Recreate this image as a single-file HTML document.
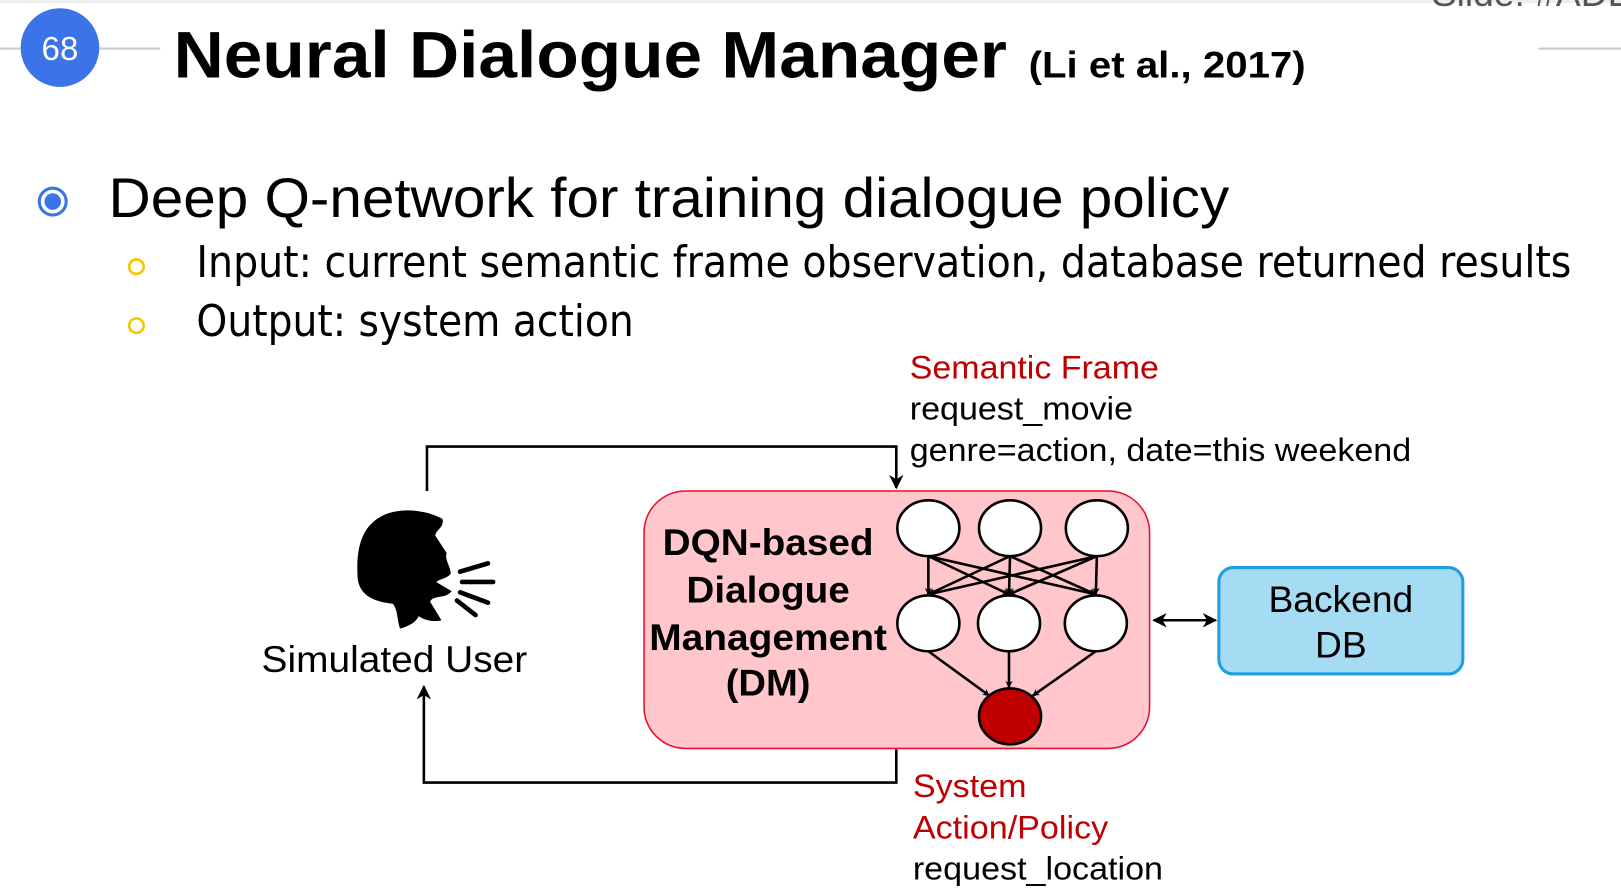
<!DOCTYPE html>
<html><head><meta charset="utf-8"><style>html,body{margin:0;padding:0;background:#fff;overflow:hidden}svg{display:block}</style></head>
<body>
<svg width="1621" height="889" viewBox="0 0 1568 860" preserveAspectRatio="none" xmlns="http://www.w3.org/2000/svg" font-family="Liberation Sans, sans-serif">
<defs>
<marker id="a" viewBox="0 0 10 10" refX="9" refY="5" markerWidth="7" markerHeight="7" orient="auto-start-reverse" markerUnits="userSpaceOnUse"><path d="M0,0 L10,5 L0,10 L3,5 z" fill="#000"/></marker>
<marker id="b" viewBox="0 0 10 10" refX="9" refY="5" markerWidth="14" markerHeight="14" orient="auto-start-reverse" markerUnits="userSpaceOnUse"><path d="M0,0 L10,5 L0,10 L3,5 z" fill="#000"/></marker>
</defs>
<rect x="0" y="0" width="1568" height="3" fill="#eee"/>
<line x1="0" y1="47" x2="155" y2="47" stroke="#ccc" stroke-width="2"/>
<line x1="1488" y1="47" x2="1568" y2="47" stroke="#ccc" stroke-width="2"/>
<circle cx="58" cy="46" r="38" fill="#3b73e8"/>
<text x="58" y="58" font-size="32" fill="#fff" text-anchor="middle">68</text>
<text x="1385" y="6" font-size="36" fill="#555">Slide: #ADL</text>
<text x="168" y="75" font-size="64" font-weight="bold" textLength="806" lengthAdjust="spacingAndGlyphs">Neural Dialogue Manager</text>
<text x="995" y="75" font-size="36" font-weight="bold" textLength="268" lengthAdjust="spacingAndGlyphs">(Li et al., 2017)</text>
<circle cx="51" cy="195" r="13" fill="none" stroke="#3b73e8" stroke-width="3"/>
<circle cx="51" cy="195" r="8" fill="#3b73e8"/>
<text x="105" y="210" font-size="54" textLength="1084" lengthAdjust="spacingAndGlyphs">Deep Q-network for training dialogue policy</text>
<circle cx="132" cy="258" r="7" fill="none" stroke="#f0c800" stroke-width="2.5"/>
<circle cx="132" cy="315" r="7" fill="none" stroke="#f0c800" stroke-width="2.5"/>
<text x="190" y="268" font-size="42" font-family="DejaVu Sans, sans-serif" textLength="1330" lengthAdjust="spacingAndGlyphs">Input: current semantic frame observation, database returned results</text>
<text x="190" y="325" font-size="42" font-family="DejaVu Sans, sans-serif" textLength="423" lengthAdjust="spacingAndGlyphs">Output: system action</text>
<text x="880" y="366" font-size="31" fill="#c00000" textLength="241" lengthAdjust="spacingAndGlyphs">Semantic Frame</text>
<text x="880" y="406" font-size="31" textLength="216" lengthAdjust="spacingAndGlyphs">request_movie</text>
<text x="880" y="446" font-size="31" textLength="485" lengthAdjust="spacingAndGlyphs">genre=action, date=this weekend</text>
<polyline points="413,475 413,432 867,432 867,472" fill="none" stroke="#000" stroke-width="2.5" marker-end="url(#b)"/>
<polyline points="867,725 867,757 410,757 410,664" fill="none" stroke="#000" stroke-width="2.5" marker-end="url(#b)"/>
<rect x="623" y="475" width="489" height="249" rx="40" fill="#ffc7cc" stroke="#e8102a" stroke-width="1.5"/>
<g font-size="36" font-weight="bold" text-anchor="middle">
<text x="743" y="537" textLength="204" lengthAdjust="spacingAndGlyphs">DQN-based</text><text x="743" y="583" textLength="158" lengthAdjust="spacingAndGlyphs">Dialogue</text><text x="743" y="629" textLength="230" lengthAdjust="spacingAndGlyphs">Management</text><text x="743" y="673" textLength="82" lengthAdjust="spacingAndGlyphs">(DM)</text></g>
<g stroke="#000" stroke-width="2.5" marker-end="url(#a)">
<line x1="898" y1="538" x2="898" y2="575"/><line x1="898" y1="538" x2="976" y2="575"/><line x1="898" y1="538" x2="1060" y2="575"/>
<line x1="977" y1="538" x2="898" y2="575"/><line x1="977" y1="538" x2="976" y2="575"/><line x1="977" y1="538" x2="1060" y2="575"/>
<line x1="1061" y1="538" x2="898" y2="575"/><line x1="1061" y1="538" x2="976" y2="575"/><line x1="1061" y1="538" x2="1060" y2="575"/>
<line x1="898" y1="630" x2="957" y2="673"/><line x1="976" y1="630" x2="976" y2="665"/><line x1="1060" y1="630" x2="999" y2="673"/>
</g>
<g stroke="#000" stroke-width="2.5" fill="#fff">
<ellipse cx="898" cy="511" rx="30" ry="27"/><ellipse cx="977" cy="511" rx="30" ry="27"/><ellipse cx="1061" cy="511" rx="30" ry="27"/>
<ellipse cx="898" cy="603" rx="30" ry="27"/><ellipse cx="976" cy="603" rx="30" ry="27"/><ellipse cx="1060" cy="603" rx="30" ry="27"/>
<ellipse cx="977" cy="693" rx="30" ry="27" fill="#c00000"/>
</g>
<line x1="1116" y1="600" x2="1176" y2="600" stroke="#000" stroke-width="2.5" marker-start="url(#b)" marker-end="url(#b)"/>
<rect x="1179" y="549" width="236" height="103" rx="14" fill="#a6dcf3" stroke="#1ea0e0" stroke-width="3"/>
<text x="1297" y="592" font-size="36" text-anchor="middle">Backend</text>
<text x="1297" y="636" font-size="36" text-anchor="middle">DB</text>
<path d="M368,500 C385,490 412,493 428,502 C430,510 422,512 421,518 L432,535 C430,542 436,548 436,555 C432,560 425,560 422,563 L437,572 C430,580 420,575 416,582 L427,600 C420,602 410,600 405,596 C402,603 392,607 387,608 C384,600 385,590 380,584 C360,582 348,575 346,560 C344,530 350,510 368,500 Z" fill="#000"/>
<g stroke="#000" stroke-width="4.5" stroke-linecap="round">
<line x1="445" y1="553" x2="472" y2="545"/><line x1="447" y1="563" x2="477" y2="563"/><line x1="445" y1="573" x2="472" y2="583"/><line x1="442" y1="581" x2="460" y2="595"/></g>
<text x="253" y="650" font-size="36" textLength="257" lengthAdjust="spacingAndGlyphs">Simulated User</text>
<text x="883" y="771" font-size="31" fill="#c00000" textLength="110" lengthAdjust="spacingAndGlyphs">System</text>
<text x="883" y="811" font-size="31" fill="#c00000" textLength="189" lengthAdjust="spacingAndGlyphs">Action/Policy</text>
<text x="883" y="851" font-size="31" textLength="242" lengthAdjust="spacingAndGlyphs">request_location</text>
</svg>
</body></html>
